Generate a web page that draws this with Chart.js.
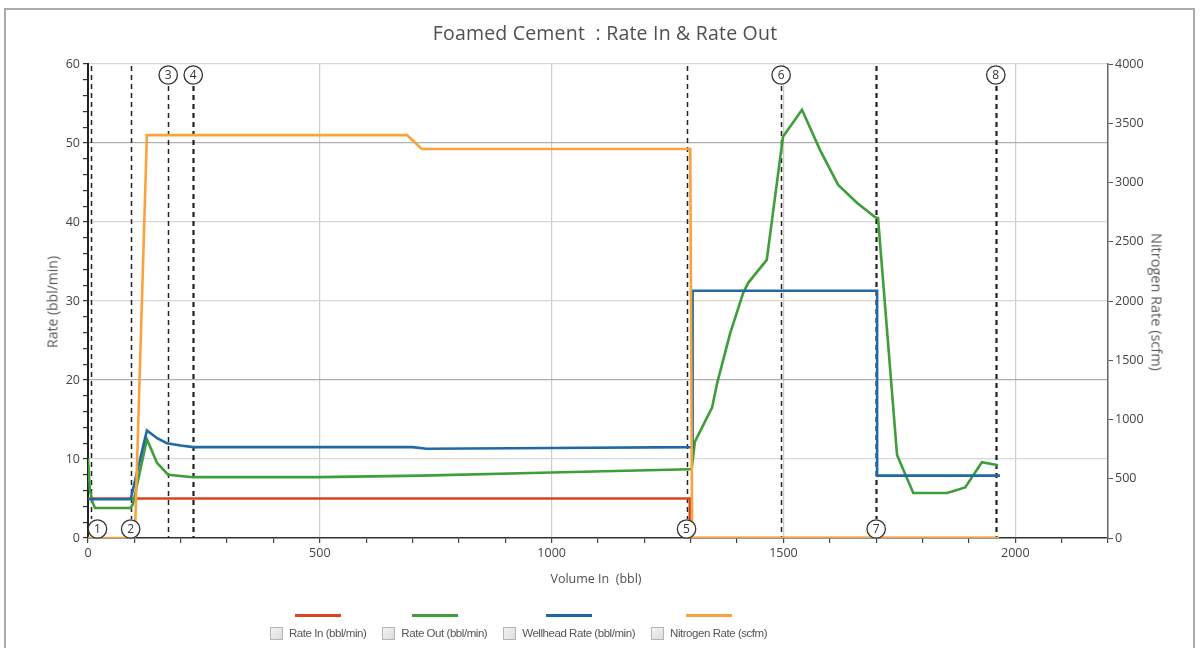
<!DOCTYPE html>
<html><head><meta charset="utf-8">
<script src="https://cdn.jsdelivr.net/npm/chart.js@4.4.0/dist/chart.umd.min.js"></script>
<style>
html,body{margin:0;padding:0;background:#fff;overflow:hidden;}
#wrap{position:relative;width:1203px;height:648px;font-family:"Open Sans",sans-serif;overflow:hidden;}
#frame{position:absolute;left:4px;top:8px;width:1191px;height:700px;border:2px solid #ababab;box-sizing:border-box;}
canvas{position:absolute;left:0;top:0;}
.title{position:absolute;top:19px;left:0;width:1210px;text-align:center;font-size:19.5px;color:#505050;white-space:pre;letter-spacing:0.2px;}
.axt{position:absolute;font-size:12.5px;font-weight:400;color:#505050;white-space:pre;}
#ylab{left:52px;top:302px;font-size:14px;color:#5a5a5a;transform:translate(-50%,-50%) rotate(-90deg);}
#y2lab{left:1157px;top:302px;font-size:14.5px;color:#5a5a5a;transform:translate(-50%,-50%) rotate(90deg);}
#xlab{left:596px;top:578px;transform:translate(-50%,-50%);}
#legend{position:absolute;left:270px;top:614px;display:flex;gap:16px;}
.li{display:flex;flex-direction:column;align-items:center;}
.ll{width:46px;height:2.5px;margin-bottom:10px;}
.lr{display:flex;align-items:center;}
.cb{width:11px;height:11px;border:1px solid #b5b5b5;background:linear-gradient(135deg,#f4f4f4,#dcdcdc);margin-right:6px;}
.lt{font-family:"Liberation Sans",sans-serif;font-size:11.5px;letter-spacing:-0.45px;color:#555;white-space:pre;}
</style>
</head><body>
<div id="wrap">
<div id="frame"></div>
<canvas id="c" width="1203" height="648"></canvas>
<div class="title">Foamed Cement  : Rate In &amp; Rate Out</div>
<div class="axt" id="ylab">Rate (bbl/min)</div>
<div class="axt" id="y2lab">Nitrogen Rate (scfm)</div>
<div class="axt" id="xlab">Volume In  (bbl)</div>
<div id="legend"></div>
</div>
<script>
// ---- data ----
const rateInVol = [0, 1298, 1298, 1965];
const rateIn    = [5, 5, 0, 0];

const rateOutVol = [0, 4, 10, 15, 92, 97, 127, 149, 173, 227, 500, 720, 1000, 1298, 1302, 1309, 1346, 1357, 1385, 1413, 1424, 1464, 1499, 1540, 1579, 1618, 1659, 1698, 1704, 1745, 1780, 1853, 1892, 1928, 1963];
const rateOut    = [10.1, 6.1, 4.5, 3.8, 3.8, 4.3, 12.5, 9.5, 8.0, 7.7, 7.7, 7.9, 8.3, 8.7, 8.7, 12.2, 16.5, 19.6, 25.9, 31.0, 32.3, 35.2, 50.8, 54.2, 49.1, 44.7, 42.4, 40.6, 40.5, 10.5, 5.7, 5.7, 6.4, 9.6, 9.2];

const wellheadVol = [0, 92, 127, 150, 170, 200, 227, 700, 730, 1000, 1304, 1304, 1702, 1702, 1967];
const wellhead    = [4.9, 4.9, 13.6, 12.6, 12.0, 11.7, 11.5, 11.5, 11.3, 11.4, 11.5, 31.3, 31.3, 7.9, 7.9];

const nitrogenVol = [0, 101, 127, 688, 720, 1299, 1303, 1965];
const nitrogen    = [0, 0, 3400, 3400, 3283, 3283, 0, 0];

const markerVol    = [7, 92, 173, 227, 1291, 1495, 1700, 1958];
const markerLabels = ['1', '2', '3', '4', '5', '6', '7', '8'];
const markerSide   = ['bottom', 'bottom', 'top', 'top', 'bottom', 'top', 'bottom', 'top'];
const markerBold   = [false, false, false, true, false, false, true, true];

const seriesNames  = ['Rate In (bbl/min)', 'Rate Out (bbl/min)', 'Wellhead Rate (bbl/min)', 'Nitrogen Rate (scfm)'];
const seriesColors = ['#d6461e', '#3d9e3a', '#1f6aa6', '#fba23c'];

const xLabelTicks = [0, 500, 1000, 1500, 2000];
const yLabelTicks = [0, 10, 20, 30, 40, 50, 60];

// ---- build ----
const zip = (xs, ys) => xs.map((x, i) => ({x: x, y: ys[i]}));

const legend = document.getElementById('legend');
seriesNames.forEach((n, i) => {
  const it = document.createElement('div'); it.className = 'li';
  it.innerHTML = '<div class="ll" style="background:' + seriesColors[i] + '"></div><div class="lr"><div class="cb"></div><span class="lt"></span></div>';
  it.querySelector('.lt').textContent = n;
  legend.appendChild(it);
});

const markerPlugin = {
  id: 'markers',
  beforeDatasetsDraw(chart) {
    const {ctx, chartArea: a, scales: {x}} = chart;
    ctx.save();
    ctx.strokeStyle = '#222';
    ctx.setLineDash([5, 4]);
    markerVol.forEach((v, i) => {
      const px = Math.round(x.getPixelForValue(v)) + 0.5;
      const y0 = markerSide[i] === 'top' ? a.top + 22 : a.top + 2;
      const y1 = markerSide[i] === 'top' ? a.bottom : a.bottom - 19;
      ctx.lineWidth = markerBold[i] ? 2.2 : 1.5;
      ctx.beginPath(); ctx.moveTo(px, y0); ctx.lineTo(px, y1); ctx.stroke();
    });
    ctx.restore();
  },
  afterDatasetsDraw(chart) {
    const {ctx, chartArea: a, scales: {x}} = chart;
    ctx.save();
    markerVol.forEach((v, i) => {
      const px = Math.max(x.getPixelForValue(v), a.left + 9.5);
      const cy = markerSide[i] === 'top' ? a.top + 11 : a.bottom - 9;
      ctx.beginPath(); ctx.arc(px, cy, 9.2, 0, Math.PI * 2);
      ctx.fillStyle = '#fff'; ctx.fill();
      ctx.lineWidth = 1.3; ctx.strokeStyle = '#333'; ctx.stroke();
      ctx.fillStyle = '#333'; ctx.font = '12px "Open Sans"';
      ctx.textAlign = 'center'; ctx.textBaseline = 'middle';
      ctx.fillText(markerLabels[i], px, cy + 0.5);
    });
    ctx.restore();
  }
};

const ds = (label, xs, ys, color, axis, order) => ({
  label: label, data: zip(xs, ys), borderColor: color, backgroundColor: color,
  borderWidth: 2.6, pointRadius: 0, tension: 0, yAxisID: axis, order: order, fill: false
});

new Chart(document.getElementById('c'), {
  type: 'line',
  data: {
    datasets: [
      ds(seriesNames[3], nitrogenVol, nitrogen, seriesColors[3], 'y2', 0),
      ds(seriesNames[2], wellheadVol, wellhead, seriesColors[2], 'y', 1),
      ds(seriesNames[1], rateOutVol, rateOut, seriesColors[1], 'y', 2),
      ds(seriesNames[0], rateInVol, rateIn, seriesColors[0], 'y', 3)
    ]
  },
  options: {
    responsive: false, animation: false, devicePixelRatio: 1,
    layout: {padding: {top: 64, left: 0, right: 0, bottom: 0}},
    plugins: {legend: {display: false}, title: {display: false}, tooltip: {enabled: false}},
    scales: {
      x: {
        type: 'linear', min: 0, max: 2200,
        ticks: {stepSize: 100, autoSkip: false, maxRotation: 0, padding: 3,
          color: '#444', font: {family: 'Open Sans', size: 12.5},
          callback: v => xLabelTicks.includes(v) ? String(v) : ''},
        grid: {
          color: c => (c.tick && xLabelTicks.includes(c.tick.value) && c.tick.value > 0) ? '#cdcdcd' : 'rgba(0,0,0,0)',
          tickColor: '#444', tickLength: 5, lineWidth: 1.2
        },
        border: {color: '#333', width: 1.5},
        afterFit: s => { s.height = 110; }
      },
      y: {
        position: 'left', min: 0, max: 60,
        ticks: {stepSize: 2, autoSkip: false, padding: 3, color: '#444',
          font: {family: 'Open Sans', size: 12.5},
          callback: v => yLabelTicks.includes(v) ? String(v) : ''},
        grid: {
          color: c => {
            if (!c.tick || !yLabelTicks.includes(c.tick.value) || c.tick.value === 0) return 'rgba(0,0,0,0)';
            return (c.tick.value === 50 || c.tick.value === 20) ? '#b0b0b0' : '#d6d6d6';
          },
          tickColor: '#333', tickLength: 5, lineWidth: 1.2
        },
        border: {color: '#222', width: 2},
        afterFit: s => { s.width = 88; }
      },
      y2: {
        position: 'right', min: 0, max: 4000,
        ticks: {stepSize: 500, padding: 2, color: '#444', font: {family: 'Open Sans', size: 12.5},
          callback: v => String(v)},
        grid: {drawOnChartArea: false, tickColor: '#555', tickLength: 5},
        border: {color: '#666', width: 1.5},
        afterFit: s => { s.width = 95; }
      }
    }
  },
  plugins: [markerPlugin]
});
</script>
</body></html>
